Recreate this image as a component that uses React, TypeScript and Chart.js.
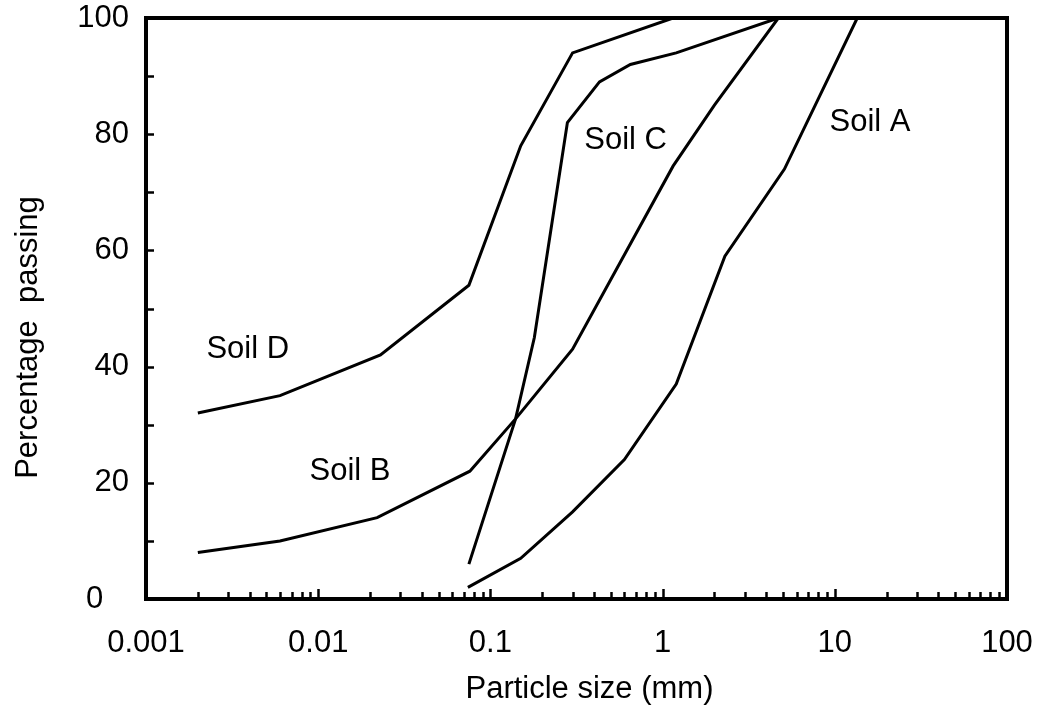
import React, { useEffect, useRef } from 'react';
import { Chart, registerables } from 'chart.js';

Chart.register(...registerables);

// Particle size (mm) and percentage passing for each soil
const soilA_x = [0.074, 0.15, 0.3, 0.6, 1.2, 2.3, 5.1, 13.5];
const soilA_y = [2, 7, 15, 24, 37, 59, 74, 100];
const soilB_x = [0.002, 0.006, 0.022, 0.076, 0.14, 0.3, 1.15, 2.0, 4.7];
const soilB_y = [8, 10, 14, 22, 31, 43, 74.5, 85, 100];
const soilC_x = [0.075, 0.14, 0.18, 0.28, 0.43, 0.65, 1.2, 4.7];
const soilC_y = [6, 31, 45, 82, 89, 92, 94, 100];
const soilD_x = [0.002, 0.006, 0.023, 0.075, 0.15, 0.3, 1.15];
const soilD_y = [32, 35, 42, 54, 78, 94, 100];

const seriesNames = ['Soil A', 'Soil B', 'Soil C', 'Soil D'];
const labelX = [16, 0.0153, 0.61, 0.0039];
const labelY = [82, 22, 79, 43];

const xTickValues = [0.001, 0.01, 0.1, 1, 10, 100];
const xTickLabels = ['0.001', '0.01', '0.1', '1', '10', '100'];
const yTickValues = [0, 20, 40, 60, 80, 100];
const yTickLabels = ['0\u2007 ', '20', '40', '60', '80', '100'];

const xTitle = 'Particle size (mm)';
const yTitle = 'Percentage  passing';

const FONT = '"Liberation Sans", Arial, sans-serif';
const FS = 31;

function toPoints(xs: number[], ys: number[]) {
  return xs.map((v, i) => ({ x: v, y: ys[i] }));
}

const overlayPlugin = {
  id: 'overlay',
  afterDraw(chart: any) {
    const ctx = chart.ctx as CanvasRenderingContext2D;
    const { left, right, top, bottom } = chart.chartArea;
    const xs = chart.scales.x;
    const ys = chart.scales.y;
    ctx.save();
    ctx.strokeStyle = '#000';
    ctx.fillStyle = '#000';
    // inward tick marks
    ctx.lineWidth = 2.5;
    ys.ticks.forEach((t: any) => {
      if (t.value <= 0 || t.value >= 100) return;
      const py = Math.round(ys.getPixelForValue(t.value)) + 0.5;
      ctx.beginPath();
      ctx.moveTo(left, py);
      ctx.lineTo(left + 8, py);
      ctx.stroke();
    });
    xs.ticks.forEach((t: any) => {
      const px = xs.getPixelForValue(t.value);
      if (px <= left + 2 || px >= right - 2) return;
      const isMajor = xTickValues.some((m) => Math.abs(Math.log10(m) - Math.log10(t.value)) < 1e-6);
      const len = isMajor ? 10 : 7;
      ctx.beginPath();
      ctx.moveTo(Math.round(px) + 0.5, bottom);
      ctx.lineTo(Math.round(px) + 0.5, bottom - len);
      ctx.stroke();
    });
    // frame
    ctx.lineWidth = 4;
    ctx.strokeRect(left, top, right - left, bottom - top);
    // series labels
    ctx.font = `${FS}px ${FONT}`;
    ctx.textAlign = 'center';
    ctx.textBaseline = 'middle';
    seriesNames.forEach((name, i) => {
      const px = xs.getPixelForValue(labelX[i]);
      const py = ys.getPixelForValue(labelY[i]);
      ctx.fillText(name, px, py);
    });
    // axis titles
    ctx.fillText(xTitle, (left + right) / 2 + 13, 689);
    ctx.save();
    ctx.translate(28, (top + bottom) / 2 + 29);
    ctx.rotate(-Math.PI / 2);
    ctx.fillText(yTitle, 0, 0);
    ctx.restore();
    ctx.restore();
  },
};

export default function App() {
  const ref = useRef<HTMLCanvasElement | null>(null);

  useEffect(() => {
    if (!ref.current) return;
    const ds = (xs: number[], ys: number[]) => ({
      data: toPoints(xs, ys),
      showLine: true,
      borderColor: '#000',
      borderWidth: 3,
      pointRadius: 0,
      tension: 0,
      fill: false,
    });
    const chart = new Chart(ref.current, {
      type: 'scatter',
      data: {
        datasets: [
          { label: seriesNames[0], ...ds(soilA_x, soilA_y) },
          { label: seriesNames[1], ...ds(soilB_x, soilB_y) },
          { label: seriesNames[2], ...ds(soilC_x, soilC_y) },
          { label: seriesNames[3], ...ds(soilD_x, soilD_y) },
        ],
      },
      options: {
        responsive: false,
        animation: false,
        layout: { padding: { left: 0, top: 18, right: 36, bottom: 0 } },
        plugins: {
          legend: { display: false },
          tooltip: { enabled: false },
        },
        scales: {
          x: {
            type: 'logarithmic',
            position: 'bottom',
            min: 0.001,
            max: 100,
            grid: { display: false, drawTicks: false },
            border: { display: false },
            afterBuildTicks: (scale: any) => {
              const ticks: any[] = [];
              for (let e = -3; e <= 1; e++) {
                for (let m = 1; m <= 9; m++) {
                  ticks.push({ value: Number((m * Math.pow(10, e)).toPrecision(10)) });
                }
              }
              ticks.push({ value: 100 });
              scale.ticks = ticks;
            },
            afterFit: (scale: any) => {
              scale.height = 108;
              scale.paddingLeft = 0;
              scale.paddingRight = 0;
            },
            ticks: {
              autoSkip: false,
              maxRotation: 0,
              minRotation: 0,
              padding: 26,
              color: '#000',
              font: { family: FONT, size: FS },
              callback: (value: any) => {
                const v = Number(value);
                const idx = xTickValues.findIndex((m) => Math.abs(Math.log10(m) - Math.log10(v)) < 1e-6);
                return idx >= 0 ? xTickLabels[idx] : '';
              },
            },
          },
          y: {
            type: 'linear',
            min: 0,
            max: 100,
            grid: { display: false, drawTicks: false },
            border: { display: false },
            afterFit: (scale: any) => {
              scale.width = 146;
              scale.paddingTop = 0;
              scale.paddingBottom = 0;
            },
            ticks: {
              stepSize: 10,
              padding: 17,
              color: '#000',
              font: { family: FONT, size: FS },
              callback: (value: any) => {
                const idx = yTickValues.indexOf(Number(value));
                return idx >= 0 ? yTickLabels[idx] : '';
              },
            },
          },
        },
      },
      plugins: [overlayPlugin],
    } as any);
    return () => chart.destroy();
  }, []);

  return (
    <div style={{ position: 'absolute', left: 0, top: 0, width: 1043, height: 707, background: '#fff' }}>
      <canvas ref={ref} width={1043} height={707} />
    </div>
  );
}
